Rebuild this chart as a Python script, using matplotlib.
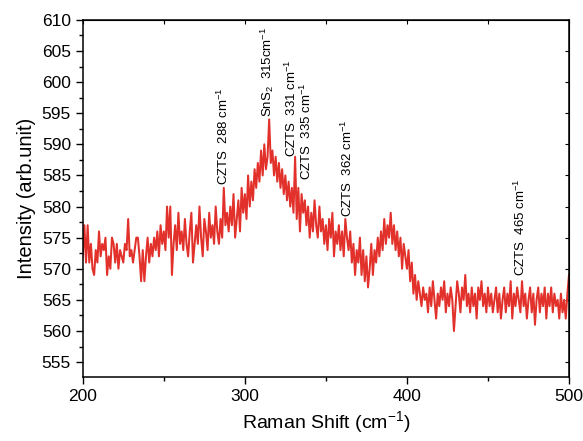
import numpy as np
import matplotlib
matplotlib.use('Agg')
import matplotlib.pyplot as plt
from matplotlib.ticker import MultipleLocator

plt.rcParams['font.family'] = ['Liberation Sans', 'DejaVu Sans']
plt.rcParams['mathtext.fontset'] = 'custom'
plt.rcParams['mathtext.rm'] = 'Liberation Sans'
plt.rcParams['mathtext.it'] = 'Liberation Sans:italic'

# Raman shift, 200..500 cm-1 at 1 cm-1 steps
shift = np.arange(200, 501)
intensity = [
    572, 577, 571, 577, 571, 574, 570, 569, 573, 571,
    576, 572, 574, 573, 575, 569, 572, 570, 575, 574,
    571, 574, 570, 573, 572, 571, 574, 573, 578, 572,
    573, 571, 573, 575, 575, 572, 568, 573, 568, 572,
    575, 571, 574, 572, 575, 573, 576, 572, 577, 574,
    576, 573, 580, 575, 580, 569, 574, 577, 573, 579,
    574, 576, 573, 578, 574, 572, 576, 579, 571, 574,
    577, 574, 580, 575, 572, 578, 576, 573, 579, 575,
    577, 574, 580, 576, 574, 578, 575, 583, 577, 579,
    576, 580, 577, 582, 575, 578, 581, 576, 583, 579,
    582, 578, 585, 580, 584, 581, 586, 583, 587, 584,
    589, 585, 590, 586, 588, 594, 587, 589, 585, 588,
    584, 587, 583, 586, 582, 585, 581, 584, 580, 583,
    579, 588, 578, 583, 576, 582, 579, 581, 577, 580,
    575, 579, 576, 581, 577, 575, 580, 576, 578, 574,
    577, 573, 578, 575, 579, 572, 576, 574, 577, 573,
    576, 572, 578, 575, 573, 576, 571, 574, 569, 573,
    571, 575, 569, 573, 568, 572, 567, 570, 574, 569,
    573, 571, 575, 572, 576, 573, 578, 574, 577, 575,
    579, 574, 577, 573, 576, 572, 575, 570, 574, 572,
    570, 573, 568, 571, 566, 569, 565, 568, 566, 564,
    567, 565, 566, 563, 567, 564, 568, 565, 562, 566,
    564, 567, 565, 568, 563, 566, 564, 567, 565, 560,
    564, 568, 566, 563, 567, 565, 569, 564, 566, 563,
    567, 564, 566, 562, 567, 565, 568, 564, 566, 563,
    567, 564, 566, 563, 565, 567, 563, 566, 562, 565,
    567, 563, 566, 564, 568, 562, 566, 564, 567, 565,
    563, 568, 564, 566, 562, 565, 567, 563, 566, 561,
    565, 567, 563, 566, 564, 567, 562, 566, 564, 567,
    563, 566, 564, 565, 562, 566, 563, 565, 562, 566,
    569,
]

# peak labels: (x, y at bottom of text, label)
peak_x = [287, 314, 329, 338, 363.5, 470]
peak_y = [583.5, 594.4, 588, 584.3, 578.3, 568.8]
peak_labels = [
    'CZTS  288 cm$^{-1}$',
    'SnS$_2$  315cm$^{-1}$',
    'CZTS  331 cm$^{-1}$',
    'CZTS  335 cm$^{-1}$',
    'CZTS  362 cm$^{-1}$',
    'CZTS  465 cm$^{-1}$',
]

fig = plt.figure(figsize=(5.83, 4.41), dpi=100)
ax = fig.add_axes([0.142, 0.145, 0.834, 0.81])

ax.plot(shift, intensity, color='#e2302a', lw=1.45)

for px, py, lab in zip(peak_x, peak_y, peak_labels):
    ax.text(px, py, lab, rotation=90, ha='center', va='bottom', fontsize=9.5)

ax.set_xlim(200, 500)
ax.set_ylim(552.6, 610)
ax.xaxis.set_major_locator(MultipleLocator(100))
ax.xaxis.set_minor_locator(MultipleLocator(50))
ax.yaxis.set_major_locator(MultipleLocator(5))
ax.yaxis.set_minor_locator(MultipleLocator(2.5))

ax.tick_params(which='both', direction='out', labelsize=12.5, width=1)
ax.tick_params(which='major', length=5)
ax.tick_params(which='minor', length=3)
for sp in ax.spines.values():
    sp.set_linewidth(1.1)

# inward ticks on top and right without labels
axr = ax.secondary_yaxis('right')
axr.yaxis.set_major_locator(MultipleLocator(5))
axr.tick_params(direction='in', length=3, labelright=False)
axt = ax.secondary_xaxis('top')
axt.xaxis.set_major_locator(MultipleLocator(50))
axt.tick_params(direction='in', length=3, labeltop=False)

ax.set_xlabel('Raman Shift (cm$^{-1}$)', fontsize=14)
ax.set_ylabel('Intensity (arb.unit)', fontsize=14.5)

fig.savefig('out.png', dpi=100)
